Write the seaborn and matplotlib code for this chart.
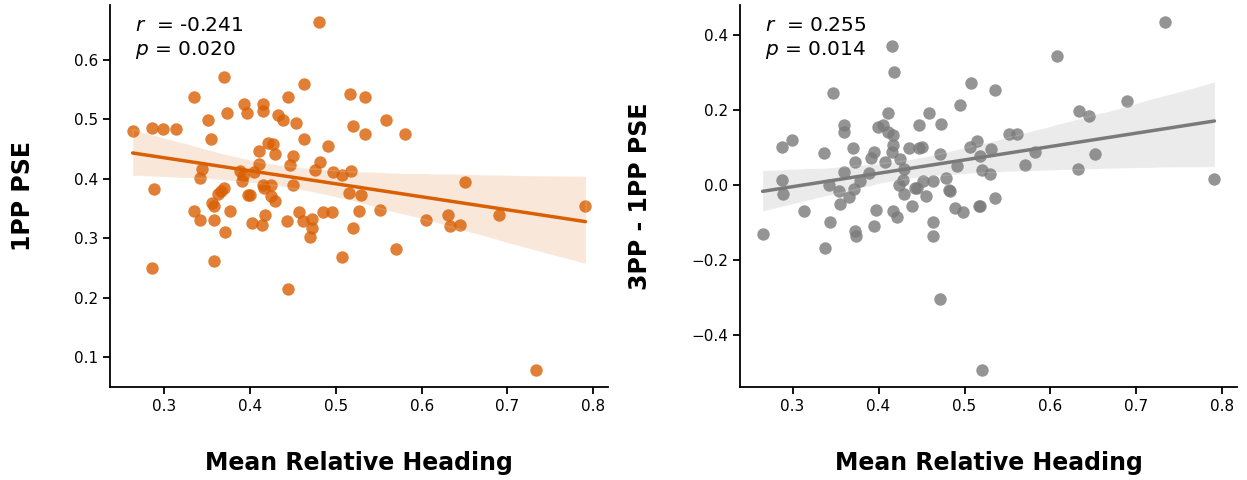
import numpy as np
import pandas as pd
import matplotlib
matplotlib.use("Agg")
import matplotlib.pyplot as plt
import seaborn as sns

# mean relative heading vs 1PP PSE (left panel)
heading_1pp = [0.480, 0.263, 0.2856, 0.298, 0.313, 0.2875, 0.286, 0.335, 0.370, 0.373,
               0.351, 0.354, 0.3435, 0.342, 0.335, 0.341, 0.369, 0.3665, 0.363, 0.356,
               0.358, 0.376, 0.358, 0.371, 0.358, 0.393, 0.3965, 0.4155, 0.4155, 0.433,
               0.438, 0.444, 0.463, 0.4537, 0.463, 0.4906, 0.4205, 0.427, 0.429, 0.410,
               0.410, 0.4497, 0.4467, 0.482, 0.476, 0.4964, 0.5069, 0.5174, 0.388, 0.392,
               0.3907, 0.405, 0.4147, 0.4245, 0.4159, 0.4497, 0.397, 0.400, 0.4245, 0.429,
               0.4175, 0.414, 0.4023, 0.4427, 0.4575, 0.462, 0.4719, 0.4719, 0.470, 0.4855,
               0.4952, 0.5073, 0.444, 0.5198, 0.517, 0.5147, 0.5205, 0.5345, 0.5345, 0.5587,
               0.5809, 0.5287, 0.5275, 0.5509, 0.5703, 0.6509, 0.6054, 0.6306, 0.6333, 0.6442,
               0.6897, 0.7909, 0.7337]
pse_1pp = [0.663, 0.481, 0.485, 0.483, 0.483, 0.382, 0.251, 0.538, 0.571, 0.510,
           0.498, 0.466, 0.417, 0.402, 0.346, 0.330, 0.384, 0.380, 0.375, 0.359,
           0.355, 0.346, 0.330, 0.311, 0.262, 0.526, 0.510, 0.526, 0.513, 0.507,
           0.499, 0.538, 0.560, 0.493, 0.466, 0.4555, 0.4605, 0.4576, 0.4424, 0.4463,
           0.4254, 0.4385, 0.4225, 0.4283, 0.414, 0.4119, 0.4056, 0.4136, 0.4136, 0.4046,
           0.3971, 0.4114, 0.3903, 0.3903, 0.3847, 0.3898, 0.3734, 0.3734, 0.3718, 0.3633,
           0.339, 0.322, 0.3254, 0.3283, 0.3435, 0.3293, 0.3322, 0.3175, 0.3029, 0.345,
           0.3435, 0.2683, 0.2147, 0.4888, 0.543, 0.3758, 0.3175, 0.538, 0.476, 0.498,
           0.476, 0.3729, 0.3458, 0.348, 0.2814, 0.395, 0.331, 0.339, 0.320, 0.322,
           0.339, 0.354, 0.0797]

# mean relative heading vs 3PP - 1PP PSE (right panel)
heading_diff = [0.4156, 0.4175, 0.3465, 0.5074, 0.495, 0.459, 0.411, 0.3593, 0.3593, 0.3993,
                0.4051, 0.4109, 0.4174, 0.4163, 0.4156, 0.4473, 0.4725, 0.2877, 0.2993, 0.336,
                0.3698, 0.3942, 0.3915, 0.4078, 0.3721, 0.4252, 0.4357, 0.4473, 0.4505, 0.4717,
                0.4912, 0.5066, 0.5151, 0.5183, 0.4299, 0.3593, 0.3884, 0.2877, 0.2884, 0.2651,
                0.3136, 0.3419, 0.3535, 0.3651, 0.3547, 0.3717, 0.3779, 0.343, 0.3372, 0.3721,
                0.3737, 0.3973, 0.395, 0.4279, 0.4233, 0.4299, 0.4163, 0.4214, 0.4388, 0.4427,
                0.4453, 0.4516, 0.4633, 0.4551, 0.4784, 0.4814, 0.4834, 0.4633, 0.4633, 0.4884,
                0.4988, 0.5174, 0.471, 0.5209, 0.7334, 0.6074, 0.5349, 0.6895, 0.6337, 0.645,
                0.552, 0.5609, 0.531, 0.5822, 0.6512, 0.5706, 0.5202, 0.5299, 0.6319, 0.7907,
                0.5183, 0.5349]
pse_diff = [0.3714, 0.302, 0.2437, 0.2706, 0.2124, 0.1916, 0.1916, 0.160, 0.1396, 0.153,
            0.160, 0.1396, 0.1332, 0.1062, 0.0884, 0.160, 0.162, 0.100, 0.1197, 0.0838,
            0.0973, 0.0884, 0.0722, 0.0615, 0.0596, 0.0677, 0.0973, 0.0973, 0.100, 0.0811,
            0.0496, 0.100, 0.118, 0.0776, 0.0434, 0.0345, 0.0318, 0.0119, -0.0259, -0.1318,
            -0.0698, 0.0, -0.0162, -0.0313, -0.0520, -0.0108, 0.0108, -0.1003, -0.1677, -0.1229,
            -0.138, -0.0663, -0.111, 0.0119, 0.0, -0.0259, -0.0706, -0.0868, -0.0555, -0.0086,
            -0.0086, 0.0108, 0.0108, -0.0286, 0.0191, -0.0151, -0.0178, -0.1003, -0.138, -0.0625,
            -0.0733, -0.0555, -0.305, -0.493, 0.434, 0.3426, 0.2517, 0.2232, 0.1962, 0.1828,
            0.135, 0.135, 0.0946, 0.0865, 0.0811, 0.0523, 0.0388, 0.028, 0.0434, 0.0146,
            -0.0571, -0.0356]

stats_text = ["$r$  = -0.241\n$p$ = 0.020", "$r$  = 0.255\n$p$ = 0.014"]
ylabels = ["1PP PSE", "3PP - 1PP PSE"]
colors = ["#d95f02", "#7a7a7a"]

sns.set_style("ticks", {"axes.edgecolor": "black", "text.color": "black",
                        "axes.labelcolor": "black", "xtick.color": "black",
                        "ytick.color": "black"})

df1 = pd.DataFrame({"heading": heading_1pp, "pse": pse_1pp})
df2 = pd.DataFrame({"heading": heading_diff, "pse": pse_diff})

fig = plt.figure(figsize=(12.47, 4.8), dpi=100)
ax1 = fig.add_axes([0.0882, 0.194, 0.3994, 0.796])
ax2 = fig.add_axes([0.5934, 0.194, 0.3986, 0.796])

for ax, df, col, lab, txt in zip([ax1, ax2], [df1, df2], colors, ylabels, stats_text):
    sns.regplot(data=df, x="heading", y="pse", ax=ax, color=col, seed=1,
                scatter_kws={"s": 80, "alpha": 0.8, "linewidths": 0},
                line_kws={"linewidth": 2.5})
    ax.set_xlabel("Mean Relative Heading", fontsize=17, fontweight="bold", labelpad=27)
    ax.set_ylabel(lab, fontsize=17, fontweight="bold", labelpad=28)
    ax.tick_params(labelsize=11, width=1.3, length=5)
    ax.set_xticks([0.3, 0.4, 0.5, 0.6, 0.7, 0.8])
    for s in ["left", "bottom"]:
        ax.spines[s].set_linewidth(1.3)
    ax.text(0.05, 0.97, txt, transform=ax.transAxes, fontsize=14.5, va="top", ha="left",
            linespacing=1.25)
    sns.despine(ax=ax)

ax2.set_yticks([-0.4, -0.2, 0.0, 0.2, 0.4])

fig.savefig("out.png", dpi=100)
